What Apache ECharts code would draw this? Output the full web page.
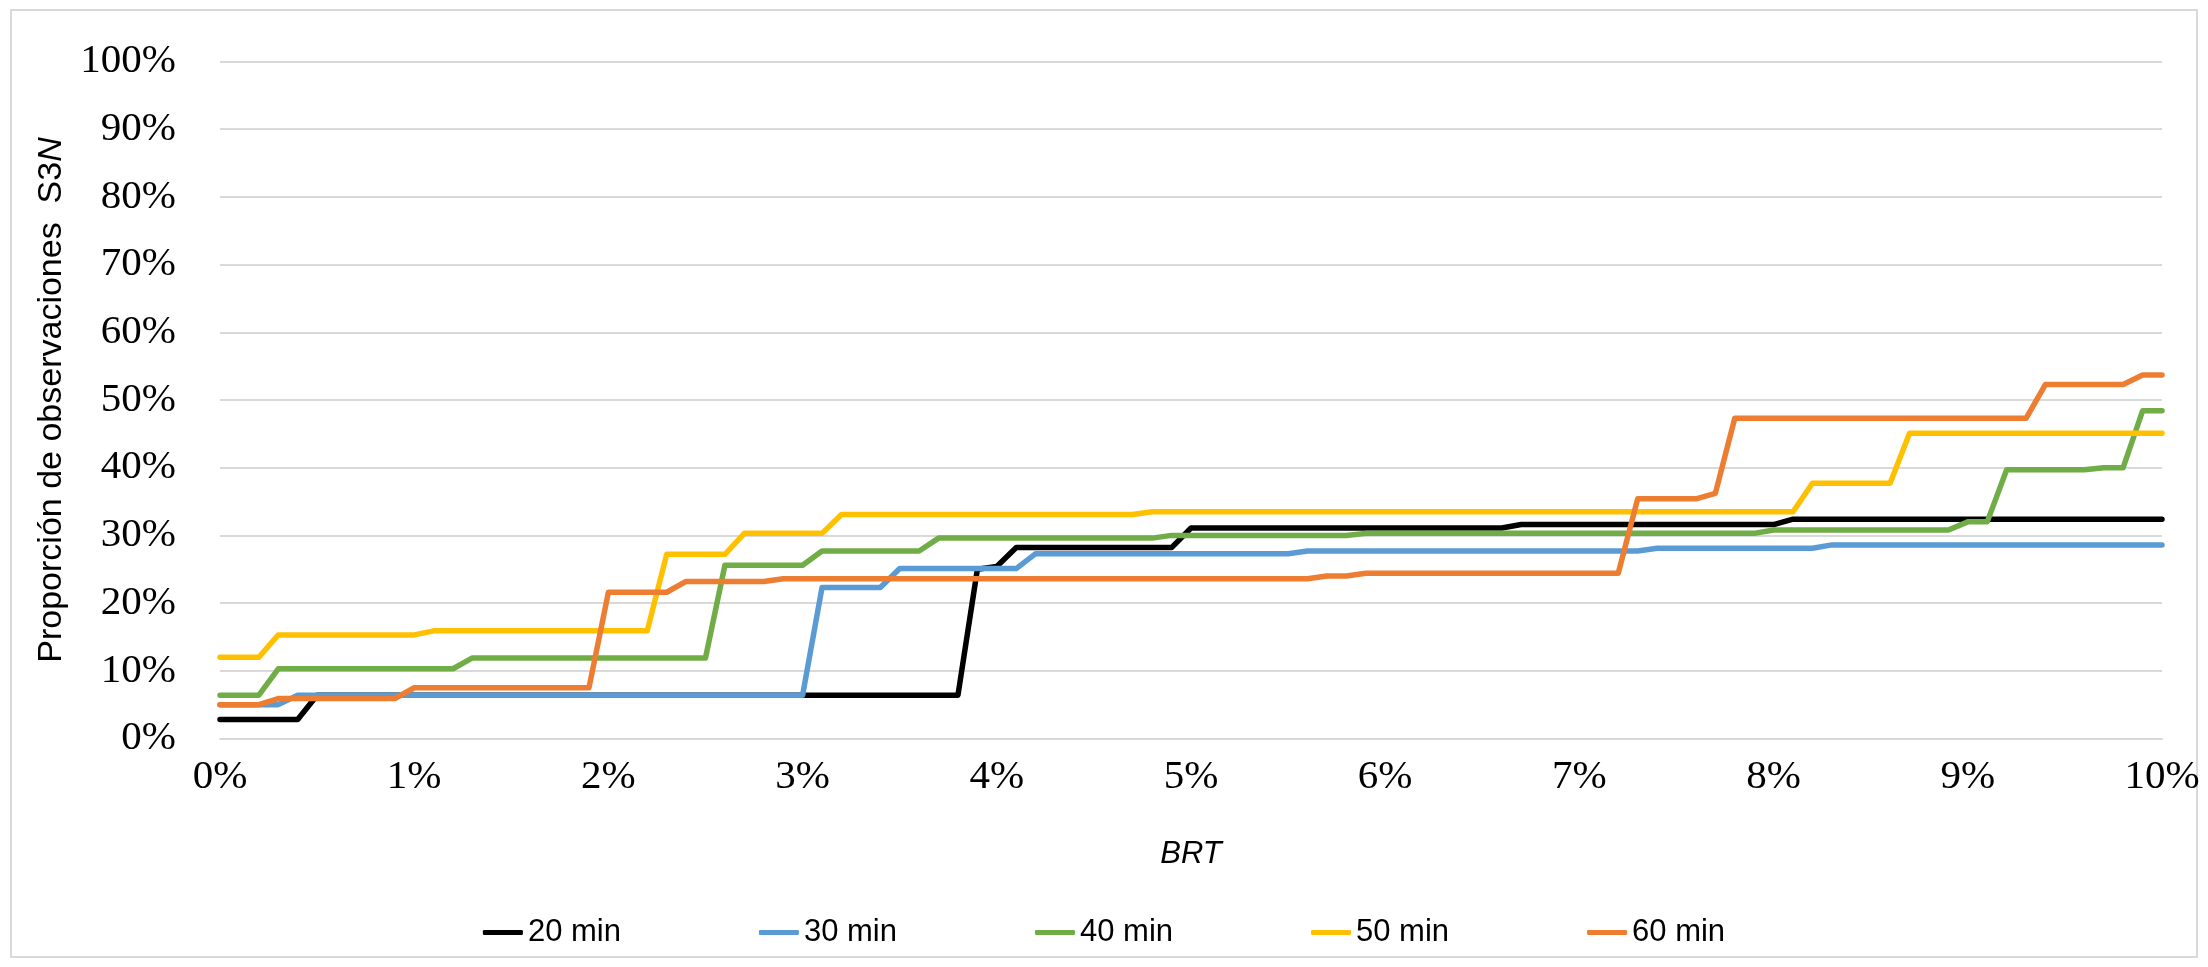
<!DOCTYPE html>
<html>
<head>
<meta charset="utf-8">
<script src="https://cdn.jsdelivr.net/npm/echarts@6/dist/echarts.min.js"></script>
<style>
  html, body { margin: 0; padding: 0; background: #ffffff; }
  #chart { width: 2208px; height: 967px; }
</style>
</head>
<body>
<div id="chart"></div>
<script>
// BRT thresholds, 0.0% .. 10.0% in steps of 0.1%
const brt = Array.from({ length: 101 }, (_, i) => i / 10);

const seriesNames = ['20 min', '30 min', '40 min', '50 min', '60 min'];
const seriesColors = ['#000000', '#5B9BD5', '#70AD47', '#FFC000', '#ED7D31'];

// Proporción de observaciones S3N (%) for each BRT threshold
const min20 = [
  2.8, 2.8, 2.8, 2.8, 2.8, 6.4, 6.4, 6.4, 6.4, 6.4,
  6.4, 6.4, 6.4, 6.4, 6.4, 6.4, 6.4, 6.4, 6.4, 6.4,
  6.4, 6.4, 6.4, 6.4, 6.4, 6.4, 6.4, 6.4, 6.4, 6.4,
  6.4, 6.4, 6.4, 6.4, 6.4, 6.4, 6.4, 6.4, 6.4, 25.0,
  25.4, 28.2, 28.2, 28.2, 28.2, 28.2, 28.2, 28.2, 28.2, 28.2,
  31.1, 31.1, 31.1, 31.1, 31.1, 31.1, 31.1, 31.1, 31.1, 31.1,
  31.1, 31.1, 31.1, 31.1, 31.1, 31.1, 31.1, 31.6, 31.6, 31.6,
  31.6, 31.6, 31.6, 31.6, 31.6, 31.6, 31.6, 31.6, 31.6, 31.6,
  31.6, 32.4, 32.4, 32.4, 32.4, 32.4, 32.4, 32.4, 32.4, 32.4,
  32.4, 32.4, 32.4, 32.4, 32.4, 32.4, 32.4, 32.4, 32.4, 32.4,
  32.4
];
const min30 = [
  5.0, 5.0, 5.0, 5.0, 6.4, 6.4, 6.4, 6.4, 6.4, 6.4,
  6.4, 6.4, 6.4, 6.4, 6.4, 6.4, 6.4, 6.4, 6.4, 6.4,
  6.4, 6.4, 6.4, 6.4, 6.4, 6.4, 6.4, 6.4, 6.4, 6.4,
  6.4, 22.3, 22.3, 22.3, 22.3, 25.1, 25.1, 25.1, 25.1, 25.1,
  25.1, 25.1, 27.3, 27.3, 27.3, 27.3, 27.3, 27.3, 27.3, 27.3,
  27.3, 27.3, 27.3, 27.3, 27.3, 27.3, 27.7, 27.7, 27.7, 27.7,
  27.7, 27.7, 27.7, 27.7, 27.7, 27.7, 27.7, 27.7, 27.7, 27.7,
  27.7, 27.7, 27.7, 27.7, 28.1, 28.1, 28.1, 28.1, 28.1, 28.1,
  28.1, 28.1, 28.1, 28.6, 28.6, 28.6, 28.6, 28.6, 28.6, 28.6,
  28.6, 28.6, 28.6, 28.6, 28.6, 28.6, 28.6, 28.6, 28.6, 28.6,
  28.6
];
const min40 = [
  6.4, 6.4, 6.4, 10.3, 10.3, 10.3, 10.3, 10.3, 10.3, 10.3,
  10.3, 10.3, 10.3, 11.9, 11.9, 11.9, 11.9, 11.9, 11.9, 11.9,
  11.9, 11.9, 11.9, 11.9, 11.9, 11.9, 25.6, 25.6, 25.6, 25.6,
  25.6, 27.7, 27.7, 27.7, 27.7, 27.7, 27.7, 29.6, 29.6, 29.6,
  29.6, 29.6, 29.6, 29.6, 29.6, 29.6, 29.6, 29.6, 29.6, 30.0,
  30.0, 30.0, 30.0, 30.0, 30.0, 30.0, 30.0, 30.0, 30.0, 30.3,
  30.3, 30.3, 30.3, 30.3, 30.3, 30.3, 30.3, 30.3, 30.3, 30.3,
  30.3, 30.3, 30.3, 30.3, 30.3, 30.3, 30.3, 30.3, 30.3, 30.3,
  30.8, 30.8, 30.8, 30.8, 30.8, 30.8, 30.8, 30.8, 30.8, 30.8,
  32.0, 32.0, 39.7, 39.7, 39.7, 39.7, 39.7, 40.0, 40.0, 48.4,
  48.4
];
const min50 = [
  12.0, 12.0, 12.0, 15.3, 15.3, 15.3, 15.3, 15.3, 15.3, 15.3,
  15.3, 15.9, 15.9, 15.9, 15.9, 15.9, 15.9, 15.9, 15.9, 15.9,
  15.9, 15.9, 15.9, 27.2, 27.2, 27.2, 27.2, 30.3, 30.3, 30.3,
  30.3, 30.3, 33.1, 33.1, 33.1, 33.1, 33.1, 33.1, 33.1, 33.1,
  33.1, 33.1, 33.1, 33.1, 33.1, 33.1, 33.1, 33.1, 33.5, 33.5,
  33.5, 33.5, 33.5, 33.5, 33.5, 33.5, 33.5, 33.5, 33.5, 33.5,
  33.5, 33.5, 33.5, 33.5, 33.5, 33.5, 33.5, 33.5, 33.5, 33.5,
  33.5, 33.5, 33.5, 33.5, 33.5, 33.5, 33.5, 33.5, 33.5, 33.5,
  33.5, 33.5, 37.7, 37.7, 37.7, 37.7, 37.7, 45.1, 45.1, 45.1,
  45.1, 45.1, 45.1, 45.1, 45.1, 45.1, 45.1, 45.1, 45.1, 45.1,
  45.1
];
const min60 = [
  5.0, 5.0, 5.0, 5.9, 5.9, 5.9, 5.9, 5.9, 5.9, 5.9,
  7.5, 7.5, 7.5, 7.5, 7.5, 7.5, 7.5, 7.5, 7.5, 7.5,
  21.6, 21.6, 21.6, 21.6, 23.2, 23.2, 23.2, 23.2, 23.2, 23.6,
  23.6, 23.6, 23.6, 23.6, 23.6, 23.6, 23.6, 23.6, 23.6, 23.6,
  23.6, 23.6, 23.6, 23.6, 23.6, 23.6, 23.6, 23.6, 23.6, 23.6,
  23.6, 23.6, 23.6, 23.6, 23.6, 23.6, 23.6, 24.0, 24.0, 24.4,
  24.4, 24.4, 24.4, 24.4, 24.4, 24.4, 24.4, 24.4, 24.4, 24.4,
  24.4, 24.4, 24.4, 35.4, 35.4, 35.4, 35.4, 36.2, 47.3, 47.3,
  47.3, 47.3, 47.3, 47.3, 47.3, 47.3, 47.3, 47.3, 47.3, 47.3,
  47.3, 47.3, 47.3, 47.3, 52.3, 52.3, 52.3, 52.3, 52.3, 53.7,
  53.7
];

const seriesValues = [min20, min30, min40, min50, min60];

const serif = '"Liberation Serif", "Times New Roman", serif';
const sans = '"Liberation Sans", Arial, sans-serif';

const chart = echarts.init(document.getElementById('chart'), null, { renderer: 'canvas' });

chart.setOption({
  animation: false,
  backgroundColor: '#ffffff',
  color: seriesColors,
  grid: { left: 220, right: 46, top: 61.5, bottom: 228.5, containLabel: false },
  graphic: [{
    type: 'rect',
    shape: { x: 11, y: 10, width: 2186, height: 947 },
    style: { fill: 'none', stroke: '#d9d9d9', lineWidth: 2 },
    silent: true
  }],
  legend: {
    data: seriesNames,
    left: 'center',
    top: 912,
    icon: 'roundRect',
    itemWidth: 40,
    itemHeight: 5,
    itemGap: 138,
    textStyle: { fontFamily: sans, fontSize: 31, color: '#000000', padding: [0, 0, 0, 0] }
  },
  xAxis: {
    type: 'value',
    min: 0,
    max: 10,
    interval: 1,
    name: 'BRT',
    nameLocation: 'middle',
    nameGap: 100,
    nameTextStyle: { fontFamily: sans, fontSize: 31, fontStyle: 'italic', color: '#000000' },
    axisLine: { show: true, lineStyle: { color: '#d9d9d9', width: 2 } },
    axisTick: { show: false },
    splitLine: { show: false },
    axisLabel: {
      formatter: '{value}%',
      fontFamily: serif,
      fontSize: 41,
      color: '#000000',
      margin: 18
    }
  },
  yAxis: {
    type: 'value',
    min: 0,
    max: 100,
    interval: 10,
    name: '{a|Proporción de observaciones  S3}{i|N}',
    nameLocation: 'middle',
    nameGap: 151,
    nameRotate: 90,
    nameTextStyle: {
      rich: {
        a: { fontFamily: sans, fontSize: 34, color: '#000000' },
        i: { fontFamily: sans, fontSize: 34, fontStyle: 'italic', color: '#000000' }
      }
    },
    axisLine: { show: false },
    axisTick: { show: false },
    splitLine: { show: true, lineStyle: { color: '#d9d9d9', width: 2 } },
    axisLabel: {
      formatter: '{value}%',
      fontFamily: serif,
      fontSize: 41,
      color: '#000000',
      margin: 44
    }
  },
  series: seriesNames.map((name, k) => ({
    name: name,
    type: 'line',
    symbol: 'none',
    showSymbol: false,
    data: seriesValues[k].map((v, i) => [brt[i], v]),
    lineStyle: { color: seriesColors[k], width: 5.5, cap: 'round', join: 'round' },
    itemStyle: { color: seriesColors[k] },
    emphasis: { disabled: true }
  }))
});
</script>
</body>
</html>
